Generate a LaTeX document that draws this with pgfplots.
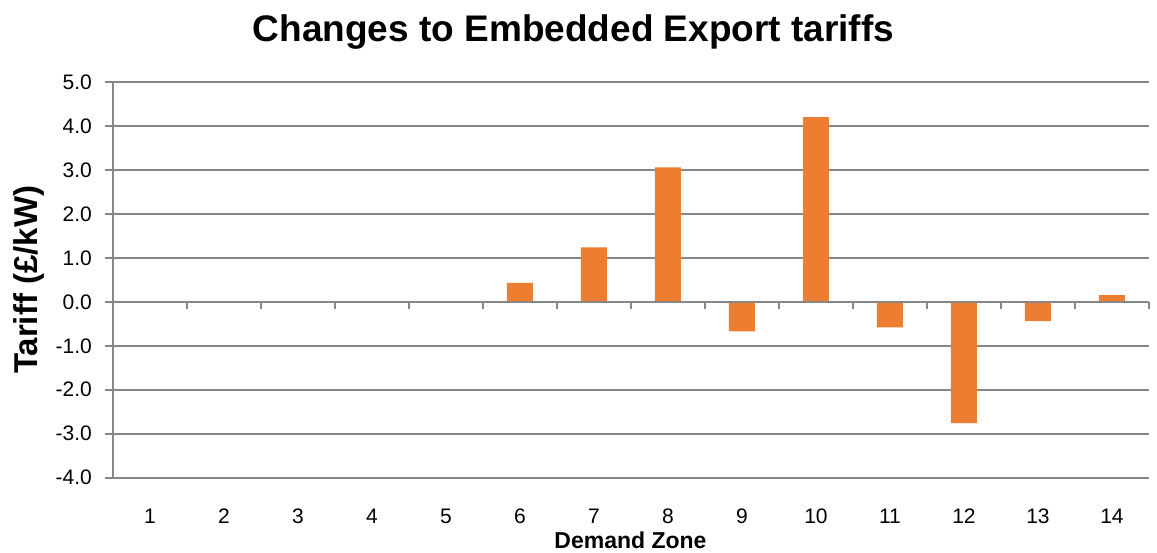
\documentclass[border=0pt]{standalone}
\usepackage{pgfplots}
\pgfplotsset{compat=1.18}
\usepackage{fontspec}
\setmainfont{Liberation Sans}
\definecolor{barorange}{HTML}{ED7D31}
\definecolor{gridgray}{HTML}{878787}
\begin{document}
\begin{tikzpicture}
\useasboundingbox (0,0) rectangle (1157pt,552pt);
\begin{axis}[
  at={(113pt,74.3pt)}, anchor=south west,
  scale only axis, width=1036pt, height=395.7pt,
  xmin=0.5, xmax=14.5, ymin=-4, ymax=5,
  axis x line*=bottom, axis y line*=left,
  x axis line style={draw=none},
  y axis line style={gridgray, line width=1.6pt},
  xtick={1,...,14},
  xticklabels={1,2,3,4,5,6,7,8,9,10,11,12,13,14},
  x tick style={draw=none},
  ytick={-4,-3,-2,-1,0,1,2,3,4,5},
  yticklabels={-4.0,-3.0,-2.0,-1.0,0.0,1.0,2.0,3.0,4.0,5.0},
  y tick style={gridgray, line width=1.6pt},
  tick align=outside, major tick length=7.5pt,
  ymajorgrids, major grid style={gridgray, line width=1.6pt},
  ticklabel style={font=\fontsize{21}{23}\selectfont},
  xticklabel style={anchor=base, yshift=-38pt},
  yticklabel style={anchor=east, inner sep=0pt, xshift=-13.5pt},
  xlabel={\bfseries Demand Zone},
  xlabel style={font=\fontsize{23}{25}\selectfont, at={(axis description cs:0.4995,-0.159)}, anchor=center},
  ylabel={\bfseries Tariff (£/kW)},
  ylabel style={font=\fontsize{33}{36}\selectfont, at={(axis description cs:-0.081,0.5)}, anchor=center, rotate=0},
  ybar, bar width=26pt,
]
\addplot[fill=barorange, draw=none] coordinates {
  (1,0) (2,0) (3,0) (4,0) (5,0) (6,0.43) (7,1.24) (8,3.06) (9,-0.67)
  (10,4.20) (11,-0.58) (12,-2.76) (13,-0.44) (14,0.15)
};
\end{axis}
\begin{axis}[
  at={(113pt,74.3pt)}, anchor=south west,
  scale only axis, width=1036pt, height=395.7pt,
  xmin=0.5, xmax=14.5, ymin=-4, ymax=5,
  axis x line=middle, axis y line=none,
  x axis line style={gridgray, line width=1.6pt, -},
  xtick={0.5,1.5,...,14.5}, xticklabels={},
  x tick style={gridgray, line width=1.6pt},
  tick align=outside, major tick length=7.5pt,
]
\end{axis}
\node[anchor=base, font=\fontsize{37}{40}\selectfont\bfseries] at (573.5pt,510pt) {Changes to Embedded Export tariffs};
\end{tikzpicture}
\end{document}
